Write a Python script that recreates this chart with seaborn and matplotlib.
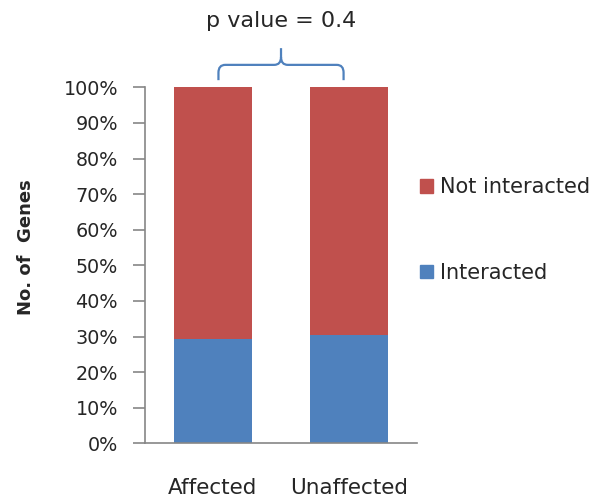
import matplotlib
matplotlib.use("Agg")
import matplotlib.pyplot as plt
import matplotlib.patches as mpatches
from matplotlib.path import Path
import numpy as np
import pandas as pd
import seaborn as sns

# Share of genes per group (percent)
categories = ["Affected", "Unaffected"]
interacted = [29.3, 30.4]
not_interacted = [70.7, 69.6]
series_labels = ["Not interacted", "Interacted"]
y_ticks = [0, 10, 20, 30, 40, 50, 60, 70, 80, 90, 100]
y_tick_labels = ["0%", "10%", "20%", "30%", "40%", "50%", "60%", "70%", "80%", "90%", "100%"]
p_value_text = "p value = 0.4"

BLUE = "#4F81BD"
RED = "#C0504D"
AXIS_GREY = "#868686"
TEXT = "#262626"

sns.set_theme(style="white")
plt.rcParams["font.family"] = ["DejaVu Sans"]

df = pd.DataFrame({
    "group": categories,
    "interacted": interacted,
    "total": np.add(interacted, not_interacted),
})

fig = plt.figure(figsize=(5.96, 5.0), dpi=100)
ax = fig.add_axes([0.2433, 0.1134, 0.4564, 0.7120])

# Stacked bars: full height in red, interacted share in blue on top of it
sns.barplot(data=df, x="group", y="total", color=RED, saturation=1,
            width=0.57, ax=ax, linewidth=0)
sns.barplot(data=df, x="group", y="interacted", color=BLUE, saturation=1,
            width=0.57, ax=ax, linewidth=0)

ax.set_xlim(-0.5, 1.5)
ax.set_ylim(0, 100)
ax.set_yticks(y_ticks)
ax.set_yticklabels(y_tick_labels)
ax.set_xlabel("")
ax.set_ylabel("No. of  Genes", fontsize=13, fontweight="bold", color=TEXT)
ax.yaxis.set_label_coords(-0.404, 0.55)

for side in ["top", "right"]:
    ax.spines[side].set_visible(False)
for side in ["left", "bottom"]:
    ax.spines[side].set_color(AXIS_GREY)
    ax.spines[side].set_linewidth(1.2)

ax.tick_params(axis="y", direction="out", length=8.6, width=1.2,
               color=AXIS_GREY, pad=10.8, labelsize=13.8, labelcolor=TEXT, left=True)
ax.tick_params(axis="x", length=0, pad=25, labelsize=15.5, labelcolor=TEXT)

# Curly bracket spanning both bars
x0, x1, xm = 0.04, 0.96, 0.5
yb, yh, yp = 102.0, 106.3, 111.0
rx, ry = 0.05, 2.2
verts = [
    (x0, yb), (x0, yh - ry), (x0, yh), (x0 + rx, yh), (xm - rx, yh),
    (xm, yh), (xm, yh + ry), (xm, yp),
    (xm, yh + ry), (xm, yh), (xm + rx, yh), (x1 - rx, yh),
    (x1, yh), (x1, yh - ry), (x1, yb),
]
codes = [
    Path.MOVETO, Path.LINETO, Path.CURVE3, Path.CURVE3, Path.LINETO,
    Path.CURVE3, Path.CURVE3, Path.LINETO,
    Path.MOVETO, Path.CURVE3, Path.CURVE3, Path.LINETO,
    Path.CURVE3, Path.CURVE3, Path.LINETO,
]
ax.add_patch(mpatches.PathPatch(Path(verts, codes), fill=False,
                                edgecolor=BLUE, linewidth=1.6, clip_on=False))
ax.text(0.5, 118.5, p_value_text, ha="center", va="center",
        fontsize=16, color=TEXT, clip_on=False)

handles = [mpatches.Patch(color=RED, label=series_labels[0]),
           mpatches.Patch(color=BLUE, label=series_labels[1])]
fig.legend(handles=handles, loc="center left", bbox_to_anchor=(0.705, 0.54),
           bbox_transform=fig.transFigure, frameon=False, fontsize=15,
           labelspacing=3.15, handlelength=0.63, handleheight=0.63,
           handletextpad=0.34, borderpad=0, borderaxespad=0,
           labelcolor=TEXT)

fig.savefig("out.png", dpi=100, facecolor="white")
